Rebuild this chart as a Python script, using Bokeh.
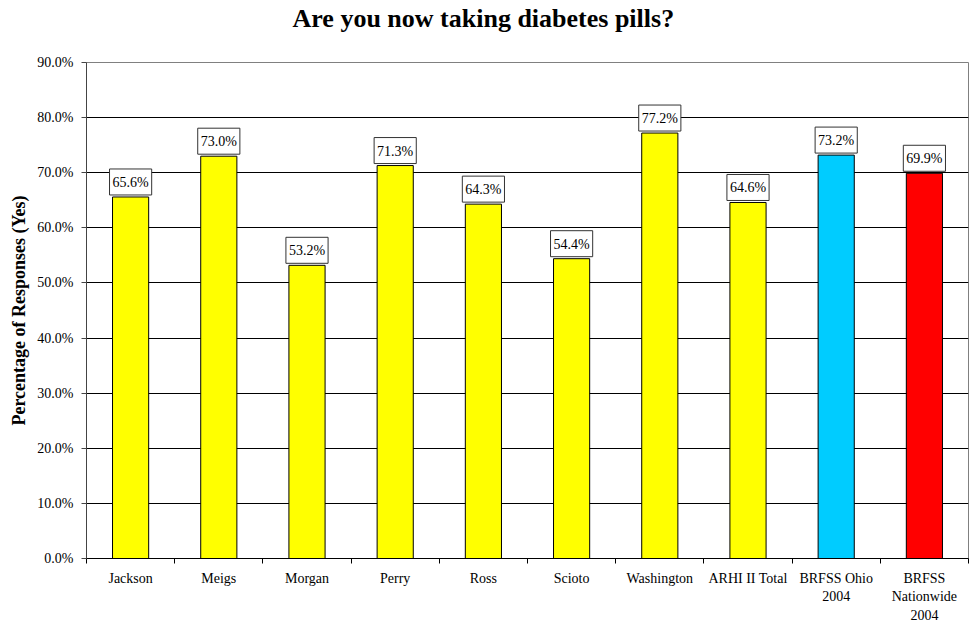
from bokeh.plotting import figure
from bokeh.models import (ColumnDataSource, Range1d, FixedTicker,
                          PrintfTickFormatter)
from bokeh.core.properties import value
from bokeh.embed import file_html
from bokeh.resources import INLINE

# Survey results: share answering "Yes"
categories = ["Jackson", "Meigs", "Morgan", "Perry", "Ross", "Scioto",
              "Washington", "ARHI II Total", "BRFSS Ohio\n2004",
              "BRFSS\nNationwide\n2004"]
yes_pct = [65.6, 73.0, 53.2, 71.3, 64.3, 54.4, 77.2, 64.6, 73.2, 69.9]
bar_colors = ["#FFFF00"] * 8 + ["#00CCFF", "#FF0000"]
y_ticks = [0, 10, 20, 30, 40, 50, 60, 70, 80, 90]

SERIF = "Liberation Serif"

xs = [i + 0.5 for i in range(len(categories))]
src = ColumnDataSource(dict(
    x=xs, y=yes_pct, color=bar_colors,
    label=[f"{v:.1f}%" for v in yes_pct],
))

p = figure(width=970, height=627, output_backend="svg", toolbar_location=None,
           x_range=Range1d(0, len(categories)), y_range=Range1d(0, 90),
           min_border_left=86, min_border_right=2,
           min_border_top=62, min_border_bottom=69)
p.background_fill_color = "white"
p.border_fill_color = "white"
p.outline_line_color = "#808080"
p.outline_line_width = 1

# title; the trailing blank line lifts it towards the top edge
p.title.text = "Are you now taking diabetes pills?\n"
p.title.text_font = SERIF
p.title.text_font_size = "26px"
p.title.text_font_style = "bold"
p.title.text_color = "black"
p.title.text_line_height = 1.0
p.title.align = "left"
p.title.offset = 206
p.title.standoff = 2

# bars
p.vbar(x="x", top="y", bottom=0, width=0.41, source=src,
       fill_color="color", line_color="black", line_width=1)

# boxed value labels
p.text(x="x", y="y", text="label", source=src,
       text_font=value(SERIF), text_font_size="14px", text_color="black",
       text_align="center", text_baseline="bottom", y_offset=-2,
       padding=dict(left=3, right=3, top=6, bottom=5),
       background_fill_color="white",
       border_line_color="#333333", border_line_width=1)

# x axis: labels at bar centres, tick marks between categories
xa = p.xaxis[0]
xa.ticker = FixedTicker(ticks=xs, minor_ticks=list(range(len(categories) + 1)))
xa.major_label_overrides = {x: c for x, c in zip(xs, categories)}
xa.major_tick_out = 0
xa.major_tick_in = 0
xa.minor_tick_out = 5
xa.minor_tick_in = 0
xa.minor_tick_line_color = "black"
xa.axis_line_color = "black"
xa.major_label_standoff = 7
xa.major_label_text_font = SERIF
xa.major_label_text_font_size = "14px"
xa.major_label_text_color = "black"
xa.major_label_text_line_height = 1.25

# y axis
ya = p.yaxis[0]
ya.ticker = FixedTicker(ticks=y_ticks, minor_ticks=[])
ya.formatter = PrintfTickFormatter(format="%.1f%%")
ya.major_tick_out = 5
ya.major_tick_in = 0
ya.major_tick_line_color = "#444444"
ya.axis_line_color = "#444444"
ya.major_label_standoff = 8
ya.major_label_text_font = SERIF
ya.major_label_text_font_size = "14px"
ya.major_label_text_color = "black"
ya.axis_label = "Percentage of Responses (Yes)"
ya.axis_label_text_font = SERIF
ya.axis_label_text_font_size = "18px"
ya.axis_label_text_font_style = "bold"
ya.axis_label_text_color = "black"
ya.axis_label_standoff = 5

# inner gridlines only; the top edge is the grey plot outline
p.xgrid.grid_line_color = None
p.ygrid.ticker = FixedTicker(ticks=y_ticks[1:-1])
p.ygrid.grid_line_color = "black"
p.ygrid.grid_line_width = 1

open("out.html", "w").write(file_html(p, INLINE))
